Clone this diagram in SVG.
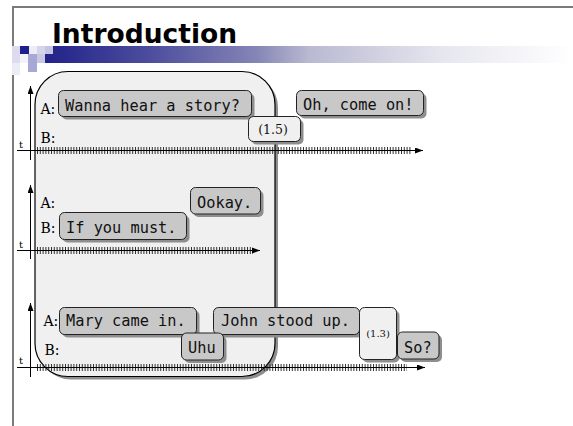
<svg xmlns="http://www.w3.org/2000/svg" width="573" height="426" viewBox="0 0 573 426">
  <defs>
    <linearGradient id="bar" x1="45" y1="0" x2="573" y2="0" gradientUnits="userSpaceOnUse">
      <stop offset="0" stop-color="#22228a"/>
      <stop offset="0.2" stop-color="#4d4d9e"/>
      <stop offset="0.4" stop-color="#8585b6"/>
      <stop offset="0.5" stop-color="#b9b9d2"/>
      <stop offset="0.75" stop-color="#e6e6ef"/>
      <stop offset="1" stop-color="#ffffff"/>
    </linearGradient>
    <marker id="ah" viewBox="0 0 8 6" refX="8" refY="3" markerWidth="8" markerHeight="6" markerUnits="userSpaceOnUse" orient="auto">
      <path d="M0,0 L8,3 L0,6 z" fill="#000"/>
    </marker>
  </defs>
  <style>
    .frame { stroke: #7a7a7a; stroke-width: 2; fill: none; }
    .title { font-family: "DejaVu Sans", "Liberation Sans", sans-serif; font-weight: bold; font-size: 26.5px; fill: #000; }
    .axis { stroke: #000; stroke-width: 1; fill: none; }
    .ticks { stroke: #333; stroke-width: 7; stroke-dasharray: 1 1.8; fill: none; }
    .lbl { font-family: "DejaVu Serif", "Liberation Serif", serif; font-size: 14px; fill: #000; }
    .t { font-family: "DejaVu Serif", "Liberation Serif", serif; font-size: 10px; fill: #000; }
    .shadow { fill: #8e8e8e; }
    .bub { fill: #c8c8c8; stroke: #222; stroke-width: 1; }
    .bub-light { fill: #f0f0f0; stroke: #222; stroke-width: 1; }
    .say { font-family: "DejaVu Sans Mono", "Liberation Mono", monospace; font-size: 15.3px; fill: #111; }
    .pause { font-family: "DejaVu Serif", "Liberation Serif", serif; fill: #111; text-anchor: middle; }
  </style>

  <rect width="573" height="426" fill="#ffffff"/>

  <!-- slide frame and header band -->
  <g id="slide-frame">
    <path class="frame" d="M13,426 V7 H573"/>
    <rect x="45" y="46" width="528" height="17" fill="url(#bar)"/>
    <rect x="12" y="46" width="8" height="17" fill="#dcdcee"/>
    <rect x="12" y="63" width="8" height="12" fill="#ececf6"/>
    <rect x="20" y="46" width="9" height="8" fill="#1e1e8c"/>
    <rect x="29" y="46" width="8" height="8" fill="#ececf6"/>
    <rect x="37" y="46" width="8" height="8" fill="#d4d4ea"/>
    <rect x="45" y="46" width="8" height="8" fill="#c4c4e0"/>
    <rect x="20" y="54" width="8" height="9" fill="#f2f2f8"/>
    <rect x="28" y="54" width="9" height="9" fill="#a8a8d4"/>
    <rect x="37" y="54" width="8" height="9" fill="#c8c8e4"/>
    <rect x="28" y="63" width="9" height="9" fill="#a8a8d4"/>
  </g>

  <g id="title">
    <text class="title" x="52" y="43">Introduction</text>
  </g>

  <!-- rounded panel behind the left part of the timelines -->
  <g id="panel">
    <rect x="38" y="74.5" width="240" height="305" rx="33" fill="#8e8e8e"/>
    <rect x="35" y="71.5" width="240" height="305" rx="33" fill="#f0f0f0" stroke="#000" stroke-width="1.2"/>
  </g>

  <!-- time axes -->
  <g id="connectors">
    <line class="ticks" x1="37" y1="150.5" x2="412" y2="150.5"/>
    <line class="axis" x1="17" y1="150.5" x2="423" y2="150.5" marker-end="url(#ah)"/>
    <line class="axis" x1="30.5" y1="160" x2="30.5" y2="86" marker-end="url(#ah)"/>

    <line class="ticks" x1="37" y1="250.5" x2="253" y2="250.5"/>
    <line class="axis" x1="17" y1="250.5" x2="260" y2="250.5" marker-end="url(#ah)"/>
    <line class="axis" x1="30.5" y1="259" x2="30.5" y2="185" marker-end="url(#ah)"/>

    <line class="ticks" x1="37" y1="367.5" x2="407" y2="367.5"/>
    <line class="axis" x1="17" y1="367.5" x2="425" y2="367.5" marker-end="url(#ah)"/>
    <line class="axis" x1="30.5" y1="377" x2="30.5" y2="303" marker-end="url(#ah)"/>
  </g>

  <!-- speaker labels -->
  <g id="labels">
    <text class="t" x="19" y="148">t</text>
    <text class="lbl" x="40.5" y="114">A:</text>
    <text class="lbl" x="40.5" y="143">B:</text>

    <text class="t" x="19" y="247.5">t</text>
    <text class="lbl" x="40.5" y="207.5">A:</text>
    <text class="lbl" x="40.5" y="233">B:</text>

    <text class="t" x="19" y="364">t</text>
    <text class="lbl" x="43.5" y="325.5">A:</text>
    <text class="lbl" x="44.5" y="355">B:</text>
  </g>

  <!-- dialogue 1 -->
  <g id="n-wanna">
    <rect class="shadow" x="61.5" y="93.5" width="193" height="26" rx="5"/>
    <rect class="bub" x="58.5" y="90.5" width="193" height="26" rx="5"/>
    <text class="say" x="65" y="110.5">Wanna hear a story?</text>
  </g>
  <g id="n-oh">
    <rect class="shadow" x="299.5" y="93.5" width="127" height="25" rx="5"/>
    <rect class="bub" x="296.5" y="90.5" width="127" height="25" rx="5"/>
    <text class="say" x="303" y="110">Oh, come on!</text>
  </g>
  <g id="n-pause1">
    <rect class="shadow" x="251.5" y="119.5" width="52" height="25" rx="5"/>
    <rect class="bub-light" x="248.5" y="116.5" width="52" height="25" rx="5"/>
    <text class="pause" x="273" y="133.5" font-size="12.5">(1.5)</text>
  </g>

  <!-- dialogue 2 -->
  <g id="n-ookay">
    <rect class="shadow" x="193.5" y="190.5" width="70" height="26.5" rx="5"/>
    <rect class="bub" x="190.5" y="187.5" width="70" height="26.5" rx="5"/>
    <text class="say" x="197" y="207.5">Ookay.</text>
  </g>
  <g id="n-must">
    <rect class="shadow" x="62.5" y="215.5" width="127" height="27" rx="5"/>
    <rect class="bub" x="59.5" y="212.5" width="127" height="27" rx="5"/>
    <text class="say" x="66" y="233">If you must.</text>
  </g>

  <!-- dialogue 3 -->
  <g id="n-mary">
    <rect class="shadow" x="62.5" y="310.5" width="137" height="27" rx="5"/>
    <rect class="bub" x="59.5" y="307.5" width="137" height="27" rx="5"/>
    <text class="say" x="66" y="326">Mary came in.</text>
  </g>
  <g id="n-john">
    <rect class="shadow" x="216.5" y="310.5" width="146" height="27" rx="5"/>
    <rect class="bub" x="213.5" y="307.5" width="146" height="27" rx="5"/>
    <text class="say" x="221" y="326">John stood up.</text>
  </g>
  <g id="n-pause2">
    <rect class="shadow" x="362.5" y="310.5" width="37" height="52" rx="5"/>
    <rect class="bub-light" x="359.5" y="307.5" width="37" height="52" rx="5"/>
    <text class="pause" x="378" y="337" font-size="10">(1.3)</text>
  </g>
  <g id="n-so">
    <rect class="shadow" x="400.5" y="335" width="41.5" height="27" rx="5"/>
    <rect class="bub" x="397.5" y="332" width="41.5" height="27" rx="5"/>
    <text class="say" x="404" y="353">So?</text>
  </g>
  <g id="n-uhu">
    <rect class="shadow" x="184.5" y="336" width="42" height="27" rx="5"/>
    <rect class="bub" x="181.5" y="333" width="42" height="27" rx="5"/>
    <text class="say" x="188" y="353">Uhu</text>
  </g>
</svg>
